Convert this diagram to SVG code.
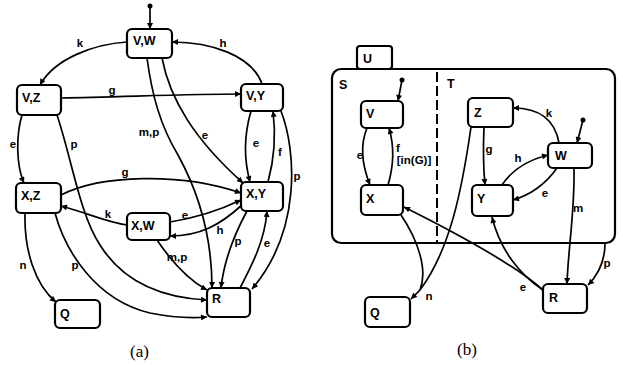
<svg xmlns="http://www.w3.org/2000/svg" width="623" height="365" viewBox="0 0 623 365">
<defs>
<marker id="ah" viewBox="0 0 10 10" markerWidth="7" markerHeight="6" markerUnits="userSpaceOnUse" refX="10" refY="5" orient="auto">
<path d="M0,0 L10,5 L0,10 z" fill="#000"/>
</marker>
</defs>
<style>
.n{fill:#fff;stroke:#000;stroke-width:2.2}
.t{font-family:"Liberation Sans",Arial,sans-serif;font-weight:bold;font-size:12.5px;fill:#000}
.l{font-family:"Liberation Sans",Arial,sans-serif;font-weight:bold;font-size:11.5px;fill:#000;text-anchor:middle}
.e{fill:none;stroke:#000;stroke-width:1.7}
.a{marker-end:url(#ah)}
.cap{font-family:"Liberation Serif","Times New Roman",serif;font-size:17px;fill:#000}
</style>
<rect width="623" height="365" fill="#fff"/>

<g id="connectors">
<!-- (a) -->
<circle cx="150" cy="6" r="2.5"/>
<path class="e a" d="M150,6 L150,29"/>
<path class="e a" d="M127,42 C95,44 55,58 40,85"/>
<path class="e a" d="M262,84 C252,55 210,42 172,42"/>
<path class="e a" d="M61,98 C120,97 190,94 241,94"/>
<path class="e a" d="M22,115 C16,135 16,165 24,183"/>
<path class="e a" d="M57,115 C72,160 80,215 100,245 C125,285 165,298 207,300"/>
<path class="e a" d="M147,58 C152,95 160,125 178,155 C200,195 212,240 212,288"/>
<path class="e a" d="M162,58 C170,100 195,140 243,183"/>
<path class="e a" d="M251,111 C244,135 244,160 250,182"/>
<path class="e a" d="M268,182 C274,160 276,135 273,111"/>
<path class="e a" d="M281,111 C296,150 302,230 252,289"/>
<path class="e a" d="M61,195 C100,175 180,172 241,193"/>
<path class="e a" d="M127,225 C105,222 85,212 61,206"/>
<path class="e a" d="M170,222 C195,218 220,210 241,200"/>
<path class="e a" d="M242,205 C220,225 200,236 170,236"/>
<path class="e a" d="M157,240 C172,262 188,280 207,290"/>
<path class="e a" d="M247,211 C234,235 224,260 221,288"/>
<path class="e a" d="M240,288 C252,265 265,240 267,211"/>
<path class="e a" d="M25,213 C24,250 35,285 56,302"/>
<path class="e a" d="M55,213 C65,250 95,300 150,313 C175,318 195,318 207,317"/>

<!-- (b) -->
<circle cx="402" cy="80" r="2.5"/>
<path class="e a" d="M402,80 L398,101"/>
<path class="e a" d="M367,128 C360,145 362,165 370,185"/>
<path class="e a" d="M388,185 C394,165 394,145 389,128"/>
<circle cx="583" cy="120" r="2.5"/>
<path class="e a" d="M583,120 L577,143"/>
<path class="e a" d="M559,143 C555,120 540,108 513,108"/>
<path class="e a" d="M484,127 C483,150 483,165 485,185"/>
<path class="e a" d="M502,185 C512,170 528,160 548,155"/>
<path class="e a" d="M557,168 C545,185 530,195 513,200"/>
<path class="e a" d="M574,168 C575,210 568,250 567,284"/>
<path class="e a" d="M605,243 C605,260 598,275 588,285"/>
<path class="e a" d="M543,290 C520,275 500,250 492,217"/>
<path class="e a" d="M543,290 C515,265 460,235 404,207"/>
<path class="e" d="M401,215 C418,240 428,270 420,290"/>
<path class="e" d="M471,127 C462,190 450,250 420,290"/>
<path class="e a" d="M420,290 L411,299"/>
</g>

<g id="labels">
<text class="l" x="80" y="47">k</text>
<text class="l" x="223" y="47">h</text>
<text class="l" x="112" y="94">g</text>
<text class="l" x="13" y="148">e</text>
<text class="l" x="74" y="148">p</text>
<text class="l" x="149" y="136">m,p</text>
<text class="l" x="205" y="139">e</text>
<text class="l" x="256" y="147">e</text>
<text class="l" x="280" y="156">f</text>
<text class="l" x="297" y="180">p</text>
<text class="l" x="125" y="176">g</text>
<text class="l" x="108" y="218">k</text>
<text class="l" x="185" y="219">e</text>
<text class="l" x="220" y="234">h</text>
<text class="l" x="177" y="261">m,p</text>
<text class="l" x="238" y="245">p</text>
<text class="l" x="267" y="247">e</text>
<text class="l" x="23" y="269">n</text>
<text class="l" x="75" y="269">p</text>

<text class="l" x="360" y="159">e</text>
<text class="l" x="398" y="152">f</text>
<text class="l" x="414" y="164">[in(G)]</text>
<text class="l" x="549" y="117">k</text>
<text class="l" x="489" y="153">g</text>
<text class="l" x="518" y="162">h</text>
<text class="l" x="545" y="197">e</text>
<text class="l" x="578" y="212">m</text>
<text class="l" x="607" y="267">p</text>
<text class="l" x="523" y="291">e</text>
<text class="l" x="429" y="300">n</text>
</g>

<g id="U">
<rect class="n" x="357" y="46" width="35" height="23" rx="3"/>
<text class="t" x="363" y="63">U</text>
</g>
<g id="ST">
<rect x="332" y="69" width="283" height="174" rx="9" fill="none" stroke="#000" stroke-width="2.2"/>
<line x1="437" y1="72" x2="437" y2="243" stroke="#000" stroke-width="2" stroke-dasharray="10,4"/>
<text class="t" x="339" y="89">S</text>
<text class="t" x="447" y="88">T</text>
</g>

<g id="VW"><rect class="n" x="127" y="29" width="45" height="29" rx="5"/><text class="t" x="133" y="45">V,W</text></g>
<g id="VZ"><rect class="n" x="17" y="85" width="44" height="30" rx="5"/><text class="t" x="22" y="102">V,Z</text></g>
<g id="VY"><rect class="n" x="241" y="84" width="42" height="27" rx="5"/><text class="t" x="246" y="100">V,Y</text></g>
<g id="XZ"><rect class="n" x="16" y="183" width="45" height="30" rx="5"/><text class="t" x="21" y="200">X,Z</text></g>
<g id="XW"><rect class="n" x="127" y="213" width="43" height="27" rx="5"/><text class="t" x="131" y="230">X,W</text></g>
<g id="XY"><rect class="n" x="241" y="182" width="42" height="29" rx="5"/><text class="t" x="246" y="198">X,Y</text></g>
<g id="Ra"><rect class="n" x="207" y="288" width="43" height="29" rx="5"/><text class="t" x="212" y="303">R</text></g>
<g id="Qa"><rect class="n" x="55" y="300" width="45" height="28" rx="5"/><text class="t" x="60" y="318">Q</text></g>

<g id="V"><rect class="n" x="361" y="101" width="42" height="27" rx="5"/><text class="t" x="366" y="118">V</text></g>
<g id="X"><rect class="n" x="361" y="185" width="42" height="30" rx="5"/><text class="t" x="366" y="203">X</text></g>
<g id="Z"><rect class="n" x="468" y="98" width="45" height="29" rx="5"/><text class="t" x="474" y="117">Z</text></g>
<g id="W"><rect class="n" x="548" y="143" width="44" height="25" rx="5"/><text class="t" x="555" y="160">W</text></g>
<g id="Y"><rect class="n" x="472" y="185" width="41" height="31" rx="5"/><text class="t" x="477" y="203">Y</text></g>
<g id="Qb"><rect class="n" x="365" y="297" width="45" height="30" rx="5"/><text class="t" x="370" y="317">Q</text></g>
<g id="Rb"><rect class="n" x="543" y="284" width="44" height="29" rx="5"/><text class="t" x="549" y="302">R</text></g>

<text class="cap" x="130" y="357">(a)</text>
<text class="cap" x="457" y="355">(b)</text>
</svg>
